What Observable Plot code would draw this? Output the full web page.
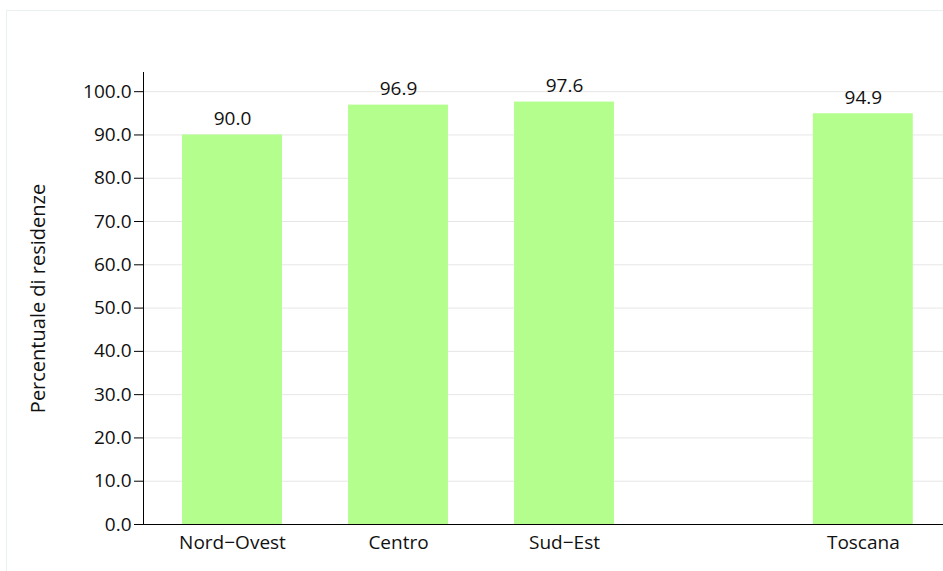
<!DOCTYPE html>
<html>
<head>
<meta charset="utf-8">
<script src="https://cdn.jsdelivr.net/npm/d3@7"></script>
<script src="https://cdn.jsdelivr.net/npm/@observablehq/plot@0.6"></script>
<style>
  html, body { margin: 0; padding: 0; background: #fff; overflow: hidden; width: 943px; height: 571px; }
  #frame { position: absolute; left: 6px; top: 10px; width: 1200px; height: 1200px; border-left: 1px solid #e9f0f0; border-top: 1px solid #e9f0f0; }
  #chart { position: absolute; left: 0; top: 0; }
</style>
</head>
<body>
<div id="frame"></div>
<div id="chart"></div>
<script>
const categories = ["Nord\u2212Ovest", "Centro", "Sud\u2212Est", "Toscana"];
const values = [90.0, 96.9, 97.6, 94.9];
const slots = [1, 2, 3, 4.8];
const yTicks = [0, 10, 20, 30, 40, 50, 60, 70, 80, 90, 100];
const yLabel = "Percentuale di residenze";

const data = categories.map((c, i) => ({cat: c, value: values[i], pos: slots[i]}));
const fmt = d3.format(".1f");
const x0 = 0.4639, x1 = 5.283;
const yMax = d3.max(values) * 1.07;
const half = 0.301;

const plot = Plot.plot({
  width: 943,
  height: 571,
  marginLeft: 143,
  marginRight: 0,
  marginTop: 72,
  marginBottom: 47,
  style: {fontFamily: "'Open Sans', sans-serif", fontSize: "19px", color: "#111", background: "transparent"},
  x: {type: "linear", domain: [x0, x1]},
  y: {domain: [0, yMax]},
  marks: [
    Plot.gridY(yTicks, {stroke: "#e6e6e6", strokeOpacity: 1}),
    Plot.rectY(data, {x1: d => d.pos - half, x2: d => d.pos + half, y: "value", fill: "#b4fe8e"}),
    Plot.text(data, {x: "pos", y: "value", text: d => fmt(d.value), lineAnchor: "bottom", dy: -10, fill: "#111"}),
    Plot.ruleX([x0], {stroke: "#000"}),
    Plot.ruleY([0], {stroke: "#000"}),
    Plot.axisY({ticks: yTicks, tickFormat: fmt, tickSize: 9, tickPadding: 3, label: null, stroke: "#000"}),
    Plot.axisX({ticks: slots, tickFormat: (d, i) => categories[i], tickSize: 0, tickPadding: 11, label: null}),
    Plot.text([yLabel], {text: d => d, frameAnchor: "left", dx: -105, rotate: -90, textAnchor: "middle", fontSize: 20, fill: "#111"})
  ]
});
document.getElementById("chart").appendChild(plot);
</script>
</body>
</html>
